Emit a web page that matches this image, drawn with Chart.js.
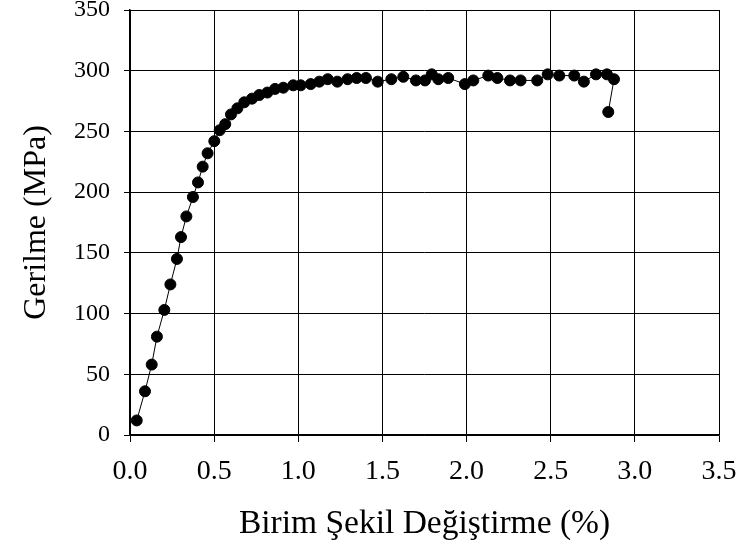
<!DOCTYPE html>
<html>
<head>
<meta charset="utf-8">
<script src="https://cdn.jsdelivr.net/npm/chart.js@4"></script>
<style>
  html, body { margin: 0; padding: 0; background: #fff; }
  #wrap { width: 741px; height: 549px; }
</style>
</head>
<body>
<div id="wrap"><canvas id="stressChart"></canvas></div>
<script>
// Gerilme - birim sekil degistirme verisi
const strain = [0.04, 0.089, 0.129, 0.16, 0.204, 0.24, 0.279, 0.303, 0.335, 0.374, 0.404, 0.432, 0.461, 0.501, 0.533,
  0.566, 0.6, 0.638, 0.679, 0.725, 0.768, 0.816, 0.862, 0.911, 0.97, 1.014, 1.074, 1.125, 1.175, 1.232, 1.293,
  1.347, 1.402, 1.472, 1.553, 1.624, 1.699, 1.753, 1.793, 1.832, 1.891, 1.99, 2.04, 2.129, 2.183, 2.258, 2.321,
  2.42, 2.482, 2.551, 2.64, 2.697, 2.769, 2.834, 2.876, 2.842];
const stress = [12, 36, 58, 81, 103, 124, 145, 163, 180, 196, 208, 221, 232, 242, 251,
  256, 264, 269, 274, 277, 280, 282, 285, 286, 288, 288, 289, 291, 293, 291, 293,
  294, 294, 291, 293, 295, 292, 292, 297, 293, 294, 289, 292, 296, 294, 292, 292,
  292, 297, 296, 296, 291, 297, 297, 293, 266];
const xTicks = [0, 0.5, 1.0, 1.5, 2.0, 2.5, 3.0, 3.5];
const yTicks = [0, 50, 100, 150, 200, 250, 300, 350];

const serif = "'Liberation Serif', 'Times New Roman', serif";

document.addEventListener('DOMContentLoaded', () => {
  const ctx = document.getElementById('stressChart');
  const points = strain.map((x, i) => ({ x: x, y: stress[i] }));

  new Chart(ctx, {
    type: 'scatter',
    data: {
      datasets: [{
        data: points,
        showLine: true,
        borderColor: '#000',
        borderWidth: 1,
        backgroundColor: '#000',
        pointRadius: 5.5,
        pointHoverRadius: 5.5
      }]
    },
    options: {
      responsive: true,
      maintainAspectRatio: false,
      animation: false,
      layout: { padding: { top: 10, right: 22, left: 0, bottom: 0 } },
      plugins: {
        legend: { display: false },
        tooltip: { enabled: false }
      },
      scales: {
        x: {
          type: 'linear',
          min: xTicks[0],
          max: xTicks[xTicks.length - 1],
          afterBuildTicks: scale => { scale.ticks = xTicks.map(v => ({ value: v })); },
          afterFit: scale => {
            scale.height = 114;
            scale.paddingLeft = 0;
            scale.paddingRight = 0;
          },
          ticks: {
            color: '#000',
            font: { family: serif, size: 28 },
            padding: 13,
            maxRotation: 0,
            callback: value => Number(value).toFixed(1)
          },
          grid: { color: '#000', lineWidth: 1, tickLength: 7 },
          border: { color: '#000', width: 1.5 },
          title: {
            display: true,
            text: 'Birim Şekil Değiştirme (%)',
            color: '#000',
            font: { family: serif, size: 33.5 },
            padding: { top: 21, bottom: 5 }
          }
        },
        y: {
          min: yTicks[0],
          max: yTicks[yTicks.length - 1],
          afterBuildTicks: scale => { scale.ticks = yTicks.map(v => ({ value: v })); },
          afterFit: scale => {
            scale.width = 130;
            scale.paddingTop = 0;
            scale.paddingBottom = 0;
          },
          ticks: {
            color: '#000',
            font: { family: serif, size: 24 },
            padding: 14
          },
          grid: { color: '#000', lineWidth: 1, tickLength: 6 },
          border: { color: '#000', width: 1.5 },
          title: {
            display: true,
            text: 'Gerilme (MPa)',
            color: '#000',
            font: { family: serif, size: 32 },
            padding: { top: 17, bottom: 0 }
          }
        }
      }
    }
  });
});
</script>
</body>
</html>
